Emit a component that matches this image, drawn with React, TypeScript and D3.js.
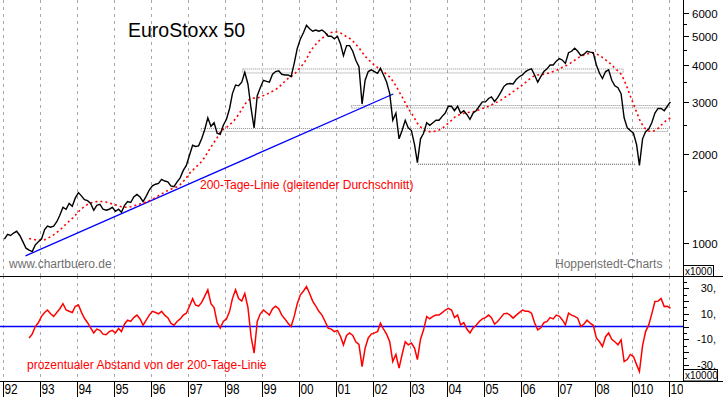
import React from 'react';
import * as d3 from 'd3';

const W = 723;
const H = 397;
const FONT = '"Liberation Sans", Arial, Helvetica, sans-serif';

// ---------- data ----------
const yearNums = [1992,1993,1994,1995,1996,1997,1998,1999,2000,2001,2002,2003,2004,2005,2006,2007,2008,2009,2010];
const yearLabels = ["92","93","94","95","96","97","98","99","00","01","02","03","04","05","06","07","08","010","10"];

// monthly EuroStoxx 50 levels, Jan 1992 .. Jan 2010
const priceStart = { year: 1992, month: 0 };
const prices = [
  1030,1070,1060,1080,1095,1060,1010,960,945,935,985,1010,
  1030,1110,1140,1130,1140,1180,1240,1320,1300,1360,1330,1420,
  1480,1440,1400,1390,1360,1290,1340,1350,1300,1290,1300,1320,
  1280,1300,1270,1340,1380,1370,1430,1460,1430,1380,1440,1510,
  1560,1580,1590,1640,1620,1610,1560,1550,1610,1660,1760,1830,
  1980,2140,2120,2130,2250,2420,2650,2480,2550,2350,2330,2500,
  2620,2850,3200,3420,3400,3500,3780,3450,2850,2450,3150,3350,
  3550,3520,3500,3720,3800,3820,3720,3700,3700,3650,4050,4550,
  4900,5150,5450,5300,5200,5250,5200,5250,5150,5000,5000,4900,
  5000,4700,4300,4650,4650,4450,4150,3950,2950,3550,3800,3850,
  3800,3750,3900,3700,3500,3200,2600,2750,2250,2400,2600,2450,
  2400,2150,1870,2250,2350,2550,2500,2550,2600,2600,2680,2750,
  2900,2900,2800,2900,2750,2800,2720,2620,2750,2800,2900,3000,
  3000,3080,3120,3010,3100,3230,3380,3450,3460,3450,3570,3650,
  3700,3800,3850,3880,3700,3500,3650,3800,3880,4000,4000,4120,
  4200,4150,4050,4400,4450,4560,4450,4300,4350,4450,4420,4400,
  4000,3750,3600,3800,3850,3550,3400,3350,3200,2650,2450,2400,
  2350,2150,1830,2250,2380,2430,2550,2750,2850,2850,2800,2900,
  3000
];

// 200-day line, monthly, Sep 1992 .. Jan 2010
const maStart = { year: 1992, month: 8 };
const ma200 = [
  1035,1030,1025,1022,
  1022,1025,1035,1050,1065,1085,1105,1130,1160,1185,1210,1240,
  1275,1305,1330,1350,1365,1375,1380,1382,1380,1375,1365,1355,
  1345,1335,1325,1320,1320,1325,1335,1345,1355,1365,1375,1390,
  1405,1425,1445,1465,1485,1505,1520,1535,1550,1575,1615,1660,
  1720,1760,1800,1840,1885,1950,2030,2110,2190,2270,2370,2420,
  2460,2510,2560,2630,2720,2830,2940,3030,3080,3090,3090,3120,
  3150,3180,3220,3260,3300,3360,3440,3520,3600,3650,3720,3820,
  3920,4050,4180,4400,4560,4700,4820,4920,5020,5100,5150,5180,
  5170,5130,5060,4990,4920,4820,4700,4570,4420,4280,4180,4080,
  4000,3920,3850,3790,3720,3640,3530,3400,3250,3120,2980,2850,
  2750,2640,2540,2470,2420,2390,2380,2380,2390,2410,2440,2490,
  2540,2600,2660,2700,2725,2745,2760,2770,2780,2800,2820,2850,
  2870,2900,2930,2970,3000,3040,3090,3140,3190,3250,3300,3360,
  3420,3490,3560,3630,3680,3700,3710,3720,3740,3770,3800,3830,
  3880,3930,3970,4010,4080,4150,4220,4280,4320,4360,4380,4390,
  4360,4310,4240,4160,4090,4000,3900,3820,3720,3560,3350,3140,
  2950,2770,2620,2500,2430,2390,2380,2400,2440,2500,2560,2610,
  2650
];

// percentage distance from the 200-day line, monthly, Sep 1992 .. Jan 2010
const deviation = [
  -9,-6,0,3,
  8,11,13,10,8,11,14,18,13,12,11,16,
  17,11,6.5,3,-1,-5,-2,-3,-6,-6.5,-4,-3,
  -5,-1.5,-4,2,5,4,7,9,6,1,5,9,
  12,11,10,12,9,7,2.6,1,4,6,9,10.5,
  16,22,17,16,19,24,29,18,15,3,-1.3,4,
  6,12,22,29,22,20,26,15,-8,-21,4,10,
  13,11,9,14,16,14,9,6,2.6,0,8,18,
  25,28,31.5,26,20,16,12,9,4,-1.3,-2,-4,
  -3,-8,-14.4,-7,-5,-7,-12,-14,-31.5,-17,-9,-6,
  -5,-4,2.6,-2,-6,-12,-27.6,-22,-32.8,-22,-12,-14.4,
  -13,-17,-26,-10,-2.6,7.9,6,8,9,9,11,13,
  14.4,13,7,9,1.3,3,-2,-5,-1,1,4,6,
  7,9,7,2,4,7,10,10.5,9,6.6,9,11,
  13,12,12,10.5,3,-2.6,-1,3,4,7,6,9,
  8,5,1.3,10.5,9,8,6.6,0,2,5,2.6,1,
  -9,-12,-15.7,-8,-5,-10,-12,-14.4,-10.5,-27.6,-26,-22,
  -23.6,-30,-35.4,-15,-4,1.3,10,19.7,20,22,15.7,16,
  14.4
];

// long-term trend line
const trendDates = ["1992-08-10", "2002-07-20"];
const trendValues = [904, 3190];

// horizontal support / resistance bands
const bandFrom = ["1998-06-25", "2001-06-01", "1997-05-10"];
const bandTo = ["2008-10-05", "2009-12-20", "2009-12-20"];
const bandLow = [3758, 2861, 2383];
const bandHigh = [3877, 2917, 2439];
// 2003 / 2009 low line
const lowLineDates = ["2003-03-20", "2009-02-01"];
const lowLineValue = 1846;

const priceTicks = [1000,1500,2000,2500,3000,3500,4000,4500,5000,5500,6000];
const priceLabels = ["1000","","2000","","3000","","4000","","5000","","6000"];
const devTicks = [-40,-35,-30,-25,-20,-15,-10,-5,0,5,10,15,20,25,30,35];
const devLabelValues = [30, 10, -10, -30];
const devLabels = ["30,", "10,", "-10,", "-30,"];

export default function App() {
  const plotRight = 683;
  const mainTop = 0, mainBottom = 276;
  const lowTop = 276, lowBottom = 381;

  const x = d3.scaleTime()
    .domain([new Date(1992, 0, 1), new Date(2010, 0, 1)])
    .range([3, 669]);
  const yP = d3.scaleLog().domain([773, 6634]).range([mainBottom, mainTop]);
  const yD = d3.scaleLinear().domain([-42.9, 39.8]).range([lowBottom, lowTop]);

  const mDate = (s: { year: number; month: number }, i: number) =>
    new Date(s.year, s.month + i, 15);

  const priceLine = d3.line<number>()
    .x((_, i) => x(mDate(priceStart, i)))
    .y(d => yP(d));
  const maLine = d3.line<number>()
    .x((_, i) => x(mDate(maStart, i)))
    .y(d => yP(d));
  const devLine = d3.line<number>()
    .x((_, i) => x(mDate(maStart, i)))
    .y(d => yD(d));

  const gridColor = '#a8a8a8';

  return (
    <svg width={W} height={H} style={{ position: 'absolute', left: 0, top: 0, background: '#fff' }}
      xmlns="http://www.w3.org/2000/svg" fontFamily={FONT}>
      <defs>
        <clipPath id="clipMain"><rect x={0} y={mainTop} width={plotRight} height={mainBottom - mainTop} /></clipPath>
        <clipPath id="clipLow"><rect x={0} y={lowTop} width={plotRight} height={lowBottom - lowTop} /></clipPath>
        <clipPath id="clipAxis"><rect x={0} y={lowBottom} width={plotRight} height={H - lowBottom} /></clipPath>
      </defs>
      <rect x={0} y={0} width={W} height={H} fill="#fff" />

      {/* vertical grid */}
      {yearNums.map(yr => {
        const gx = Math.round(x(new Date(yr, 0, 1))) + 0.5;
        return (
          <g key={'g' + yr}>
            <line x1={gx} x2={gx} y1={mainTop} y2={mainBottom} stroke={gridColor} strokeDasharray="3,4" />
            <line x1={gx} x2={gx} y1={lowTop} y2={lowBottom} stroke={gridColor} strokeDasharray="3,4" />
          </g>
        );
      })}

      {/* main panel */}
      <g clipPath="url(#clipMain)">
        {bandFrom.map((f, i) => {
          const x0 = x(new Date(f));
          const x1 = x(new Date(bandTo[i]));
          const y0 = yP(bandHigh[i]);
          const y1 = yP(bandLow[i]);
          return (
            <rect key={'b' + i} x={x0} y={y0} width={x1 - x0} height={y1 - y0}
              fill="none" stroke="#8c8c8c" strokeWidth={1} strokeDasharray="1,1" />
          );
        })}
        <line x1={x(new Date(lowLineDates[0]))} x2={x(new Date(lowLineDates[1]))}
          y1={yP(lowLineValue)} y2={yP(lowLineValue)} stroke="#505050" strokeDasharray="1,1" />
        <line x1={x(new Date(trendDates[0]))} x2={x(new Date(trendDates[1]))}
          y1={yP(trendValues[0])} y2={yP(trendValues[1])} stroke="#0000ff" strokeWidth={1.3} />
        <path d={maLine(ma200) || ''} fill="none" stroke="#ff0000" strokeWidth={1.6} strokeDasharray="2,3" />
        <path d={priceLine(prices) || ''} fill="none" stroke="#000" strokeWidth={1.4} />
      </g>

      <text x={128} y={37} fontSize={19.5} fill="#000">EuroStoxx 50</text>
      <text x={200} y={189} fontSize={12} fill="#ff0000">200-Tage-Linie (gleitender Durchschnitt)</text>
      <text x={9} y={268} fontSize={12} fill="#707070">www.chartbuero.de</text>
      <text x={555} y={268} fontSize={12} fill="#707070">Hoppenstedt-Charts</text>

      {/* lower panel */}
      <g clipPath="url(#clipLow)">
        <line x1={0} x2={plotRight} y1={yD(0)} y2={yD(0)} stroke="#0000ff" strokeWidth={1.4} />
        <path d={devLine(deviation) || ''} fill="none" stroke="#ff0000" strokeWidth={1.5} />
      </g>
      <text x={27} y={369} fontSize={12} fill="#ff0000">prozentualer Abstand von der 200-Tage-Linie</text>

      {/* frame lines */}
      <line x1={0} x2={W} y1={mainBottom + 0.5} y2={mainBottom + 0.5} stroke="#000" />
      <line x1={0} x2={W} y1={lowBottom + 0.5} y2={lowBottom + 0.5} stroke="#000" />
      <line x1={plotRight + 0.5} x2={plotRight + 0.5} y1={0} y2={lowBottom} stroke="#000" />

      {/* right price axis */}
      {priceTicks.map((t, i) => {
        const ty = Math.round(yP(t)) + 0.5;
        const major = priceLabels[i] !== '';
        return (
          <g key={'pt' + t}>
            <line x1={plotRight} x2={plotRight + (major ? 6 : 4)} y1={ty} y2={ty} stroke="#000" />
            {major && <text x={692} y={ty + 4} fontSize={11.5} fill="#000">{priceLabels[i]}</text>}
          </g>
        );
      })}
      {devTicks.map(t => {
        const ty = Math.round(yD(t)) + 0.5;
        const major = t % 10 === 0;
        if (ty < lowTop + 2 || ty > lowBottom - 1) return null;
        return <line key={'dt' + t} x1={plotRight} x2={plotRight + (major ? 6 : 4)} y1={ty} y2={ty} stroke="#000" />;
      })}
      {devLabelValues.map((v, i) => (
        <text key={'dl' + v} x={716} y={yD(v) + 4} fontSize={11} textAnchor="end" fill="#000">{devLabels[i]}</text>
      ))}

      {/* unit boxes */}
      <rect x={plotRight + 0.5} y={265.5} width={30} height={11} fill="#fff" stroke="#000" />
      <text x={685} y={275} fontSize={10} fill="#000">x1000</text>
      <rect x={plotRight + 0.5} y={369.5} width={34} height={11.5} fill="#fff" stroke="#000" />
      <text x={685} y={379} fontSize={10} fill="#000">x10000</text>

      {/* bottom time axis */}
      <g clipPath="url(#clipAxis)">
        {yearNums.map((yr, i) => {
          const tx = Math.round(x(new Date(yr, 0, 1))) + 0.5;
          return (
            <g key={'yt' + yr}>
              <line x1={tx} x2={tx} y1={lowBottom} y2={H} stroke="#000" />
              <text x={tx + 1} y={393.5} fontSize={15.5} fill="#000"
                textLength={6.6 * yearLabels[i].length} lengthAdjust="spacingAndGlyphs">{yearLabels[i]}</text>
            </g>
          );
        })}
      </g>
    </svg>
  );
}
